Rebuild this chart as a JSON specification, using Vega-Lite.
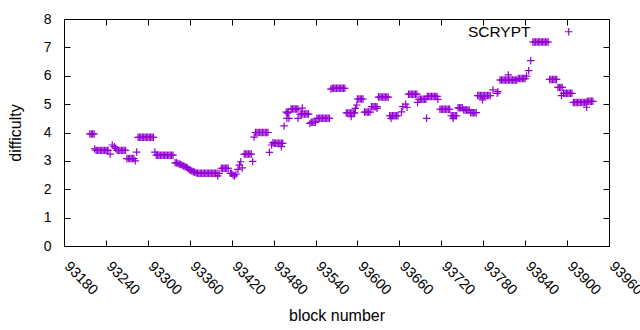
{
 "$schema": "https://vega.github.io/schema/vega-lite/v6.json",
 "width": 545,
 "height": 227,
 "autosize": "none",
 "padding": {"left": 64, "top": 19, "right": 31, "bottom": 84},
 "background": "white",
 "config": {
  "view": {"stroke": "black", "strokeWidth": 1},
  "font": "Liberation Sans",
  "axis": {"domain": false, "grid": false, "tickColor": "black", "tickSize": -6, "tickWidth": 1, "labelColor": "black", "titleColor": "black", "labelFontSize": 14, "titleFontSize": 16, "titleFontWeight": "normal", "labelFont": "Liberation Sans", "titleFont": "Liberation Sans"}
 },
 "data": {"values": [
  {"block":93217,"diff":3.95},{"block":93219,"diff":3.95},{"block":93221,"diff":3.95},{"block":93223,"diff":3.95},
  {"block":93224,"diff":3.42},
  {"block":93226,"diff":3.37},{"block":93228,"diff":3.37},{"block":93230,"diff":3.37},{"block":93232,"diff":3.37},{"block":93234,"diff":3.37},{"block":93236,"diff":3.37},{"block":93238,"diff":3.37},{"block":93240,"diff":3.37},{"block":93242,"diff":3.37},{"block":93243,"diff":3.37},
  {"block":93246,"diff":3.24},{"block":93249,"diff":3.56},{"block":93252,"diff":3.5},{"block":93254,"diff":3.44},
  {"block":93256,"diff":3.37},{"block":93258,"diff":3.37},{"block":93260,"diff":3.37},{"block":93262,"diff":3.37},{"block":93264,"diff":3.37},{"block":93266,"diff":3.37},{"block":93268,"diff":3.37},
  {"block":93270,"diff":3.08},{"block":93272,"diff":3.08},{"block":93274,"diff":3.08},{"block":93276,"diff":3.08},{"block":93278,"diff":3.08},{"block":93280,"diff":3.08},
  {"block":93282,"diff":3.0},{"block":93284,"diff":3.31},
  {"block":93286,"diff":3.83},{"block":93288,"diff":3.83},{"block":93290,"diff":3.83},{"block":93292,"diff":3.83},{"block":93294,"diff":3.83},{"block":93296,"diff":3.83},{"block":93298,"diff":3.83},{"block":93300,"diff":3.83},{"block":93302,"diff":3.83},{"block":93304,"diff":3.83},{"block":93306,"diff":3.83},{"block":93308,"diff":3.83},
  {"block":93310,"diff":3.31},
  {"block":93312,"diff":3.2},{"block":93314,"diff":3.2},{"block":93316,"diff":3.2},{"block":93318,"diff":3.2},{"block":93320,"diff":3.2},{"block":93322,"diff":3.2},{"block":93324,"diff":3.2},{"block":93326,"diff":3.2},{"block":93328,"diff":3.2},{"block":93330,"diff":3.2},{"block":93332,"diff":3.2},{"block":93334,"diff":3.2},{"block":93336,"diff":3.2},
  {"block":93339,"diff":2.93},{"block":93341,"diff":2.93},{"block":93343,"diff":2.91},{"block":93345,"diff":2.89},{"block":93347,"diff":2.87},{"block":93349,"diff":2.85},{"block":93351,"diff":2.82},{"block":93353,"diff":2.8},{"block":93355,"diff":2.78},{"block":93357,"diff":2.75},{"block":93359,"diff":2.7},{"block":93361,"diff":2.67},{"block":93363,"diff":2.64},{"block":93365,"diff":2.62},{"block":93367,"diff":2.6},{"block":93369,"diff":2.58},
  {"block":93371,"diff":2.56},{"block":93373,"diff":2.56},{"block":93375,"diff":2.56},{"block":93377,"diff":2.56},{"block":93379,"diff":2.56},{"block":93381,"diff":2.56},{"block":93383,"diff":2.56},{"block":93385,"diff":2.56},{"block":93387,"diff":2.56},{"block":93389,"diff":2.56},{"block":93391,"diff":2.56},{"block":93393,"diff":2.56},{"block":93395,"diff":2.56},{"block":93397,"diff":2.56},{"block":93399,"diff":2.56},
  {"block":93400,"diff":2.47},{"block":93402,"diff":2.56},
  {"block":93405,"diff":2.74},{"block":93407,"diff":2.74},{"block":93409,"diff":2.74},{"block":93411,"diff":2.74},{"block":93413,"diff":2.74},{"block":93415,"diff":2.74},
  {"block":93418,"diff":2.56},{"block":93420,"diff":2.56},{"block":93422,"diff":2.5},{"block":93424,"diff":2.47},{"block":93426,"diff":2.53},
  {"block":93429,"diff":2.7},{"block":93431,"diff":2.85},{"block":93433,"diff":2.97},{"block":93435,"diff":2.75},
  {"block":93438,"diff":3.24},{"block":93440,"diff":3.24},{"block":93442,"diff":3.24},{"block":93444,"diff":3.24},{"block":93446,"diff":3.24},{"block":93448,"diff":3.24},
  {"block":93450,"diff":2.98},{"block":93452,"diff":3.84},
  {"block":93454,"diff":4.0},{"block":93456,"diff":4.0},{"block":93458,"diff":4.0},{"block":93460,"diff":4.0},{"block":93462,"diff":4.0},{"block":93464,"diff":4.0},{"block":93466,"diff":4.0},{"block":93468,"diff":4.0},{"block":93470,"diff":4.0},{"block":93472,"diff":4.0},
  {"block":93474,"diff":3.3},{"block":93477,"diff":3.56},{"block":93479,"diff":3.64},
  {"block":93481,"diff":3.62},{"block":93483,"diff":3.62},{"block":93485,"diff":3.62},{"block":93487,"diff":3.62},{"block":93489,"diff":3.62},{"block":93491,"diff":3.62},{"block":93493,"diff":3.62},
  {"block":93491,"diff":3.5},{"block":93495,"diff":4.23},
  {"block":93498,"diff":4.72},{"block":93499,"diff":4.5},{"block":93500,"diff":4.68},{"block":93501,"diff":4.72},{"block":93502,"diff":4.5},
  {"block":93505,"diff":4.83},{"block":93507,"diff":4.83},{"block":93509,"diff":4.83},{"block":93511,"diff":4.83},{"block":93513,"diff":4.83},{"block":93515,"diff":4.83},
  {"block":93515,"diff":4.5},
  {"block":93518,"diff":4.65},{"block":93520,"diff":4.65},{"block":93522,"diff":4.65},{"block":93524,"diff":4.65},{"block":93526,"diff":4.65},{"block":93528,"diff":4.65},{"block":93530,"diff":4.65},
  {"block":93521,"diff":4.86},
  {"block":93532,"diff":4.32},{"block":93534,"diff":4.36},{"block":93536,"diff":4.36},{"block":93538,"diff":4.36},{"block":93540,"diff":4.36},
  {"block":93542,"diff":4.5},{"block":93544,"diff":4.5},{"block":93546,"diff":4.5},{"block":93548,"diff":4.5},{"block":93550,"diff":4.5},{"block":93552,"diff":4.5},{"block":93554,"diff":4.5},{"block":93556,"diff":4.5},{"block":93558,"diff":4.5},{"block":93560,"diff":4.5},
  {"block":93562,"diff":5.53},
  {"block":93564,"diff":5.56},{"block":93566,"diff":5.56},{"block":93568,"diff":5.56},{"block":93570,"diff":5.56},{"block":93572,"diff":5.56},{"block":93574,"diff":5.56},{"block":93576,"diff":5.56},{"block":93578,"diff":5.56},{"block":93580,"diff":5.56},{"block":93582,"diff":5.56},
  {"block":93584,"diff":4.69},{"block":93586,"diff":4.69},{"block":93588,"diff":4.69},{"block":93590,"diff":4.69},{"block":93592,"diff":4.69},{"block":93594,"diff":4.69},{"block":93596,"diff":4.69},
  {"block":93591,"diff":4.56},{"block":93597,"diff":4.85},{"block":93599,"diff":4.97},
  {"block":93600,"diff":5.18},{"block":93602,"diff":5.18},{"block":93604,"diff":5.18},{"block":93606,"diff":5.18},{"block":93608,"diff":5.18},
  {"block":93610,"diff":4.72},{"block":93612,"diff":4.72},{"block":93614,"diff":4.72},{"block":93616,"diff":4.72},{"block":93618,"diff":4.72},
  {"block":93620,"diff":4.91},{"block":93622,"diff":4.91},{"block":93624,"diff":4.91},{"block":93626,"diff":4.91},{"block":93628,"diff":4.91},{"block":93628,"diff":4.85},
  {"block":93630,"diff":5.25},{"block":93632,"diff":5.25},{"block":93634,"diff":5.25},{"block":93636,"diff":5.25},{"block":93638,"diff":5.25},{"block":93640,"diff":5.25},{"block":93642,"diff":5.25},{"block":93644,"diff":5.25},
  {"block":93646,"diff":4.59},{"block":93648,"diff":4.59},{"block":93650,"diff":4.59},{"block":93652,"diff":4.59},{"block":93654,"diff":4.59},{"block":93656,"diff":4.59},{"block":93658,"diff":4.59},
  {"block":93648,"diff":4.5},
  {"block":93663,"diff":4.73},{"block":93665,"diff":4.91},{"block":93669,"diff":5.0},{"block":93671,"diff":4.89},
  {"block":93673,"diff":5.35},{"block":93675,"diff":5.35},{"block":93677,"diff":5.35},{"block":93679,"diff":5.35},{"block":93681,"diff":5.35},{"block":93683,"diff":5.35},{"block":93685,"diff":5.35},
  {"block":93686,"diff":5.06},
  {"block":93688,"diff":5.17},{"block":93690,"diff":5.17},{"block":93692,"diff":5.17},{"block":93694,"diff":5.17},{"block":93696,"diff":5.17},{"block":93698,"diff":5.17},
  {"block":93699,"diff":4.5},
  {"block":93700,"diff":5.27},{"block":93702,"diff":5.27},{"block":93704,"diff":5.27},{"block":93706,"diff":5.27},{"block":93708,"diff":5.27},{"block":93710,"diff":5.27},{"block":93712,"diff":5.27},{"block":93714,"diff":5.27},
  {"block":93715,"diff":5.17},
  {"block":93718,"diff":4.82},{"block":93720,"diff":4.82},{"block":93722,"diff":4.82},{"block":93724,"diff":4.82},{"block":93726,"diff":4.82},{"block":93728,"diff":4.82},{"block":93730,"diff":4.82},{"block":93732,"diff":4.82},
  {"block":93734,"diff":4.59},{"block":93736,"diff":4.59},{"block":93738,"diff":4.59},{"block":93740,"diff":4.59},{"block":93742,"diff":4.59},{"block":93737,"diff":4.5},
  {"block":93744,"diff":4.87},{"block":93746,"diff":4.87},{"block":93748,"diff":4.87},{"block":93750,"diff":4.87},
  {"block":93752,"diff":4.79},{"block":93754,"diff":4.79},{"block":93756,"diff":4.79},{"block":93758,"diff":4.79},{"block":93760,"diff":4.79},
  {"block":93762,"diff":4.7},{"block":93764,"diff":4.7},{"block":93766,"diff":4.7},{"block":93768,"diff":4.7},{"block":93770,"diff":4.7},
  {"block":93772,"diff":5.3},{"block":93774,"diff":5.3},{"block":93776,"diff":5.3},{"block":93778,"diff":5.3},{"block":93780,"diff":5.3},{"block":93782,"diff":5.3},{"block":93784,"diff":5.3},{"block":93786,"diff":5.3},{"block":93788,"diff":5.3},{"block":93790,"diff":5.3},
  {"block":93779,"diff":5.15},
  {"block":93794,"diff":5.5},{"block":93800,"diff":5.38},{"block":93801,"diff":5.44},
  {"block":93804,"diff":5.85},{"block":93806,"diff":5.85},{"block":93808,"diff":5.85},{"block":93810,"diff":5.85},{"block":93812,"diff":5.85},{"block":93814,"diff":5.85},{"block":93816,"diff":5.85},{"block":93818,"diff":5.85},{"block":93820,"diff":5.85},{"block":93822,"diff":5.85},{"block":93824,"diff":5.85},{"block":93826,"diff":5.85},{"block":93828,"diff":5.85},
  {"block":93816,"diff":6.03},
  {"block":93830,"diff":5.9},{"block":93832,"diff":5.9},{"block":93834,"diff":5.9},{"block":93836,"diff":5.9},{"block":93838,"diff":5.9},{"block":93840,"diff":5.9},
  {"block":93842,"diff":5.99},{"block":93845,"diff":6.18},{"block":93848,"diff":6.53},
  {"block":93851,"diff":7.19},{"block":93853,"diff":7.19},{"block":93855,"diff":7.19},{"block":93857,"diff":7.19},{"block":93859,"diff":7.19},{"block":93861,"diff":7.19},{"block":93863,"diff":7.19},{"block":93865,"diff":7.19},{"block":93867,"diff":7.19},{"block":93869,"diff":7.19},{"block":93871,"diff":7.19},{"block":93873,"diff":7.19},
  {"block":93875,"diff":5.87},{"block":93877,"diff":5.87},{"block":93879,"diff":5.87},{"block":93881,"diff":5.87},{"block":93883,"diff":5.87},{"block":93885,"diff":5.87},
  {"block":93887,"diff":5.59},{"block":93889,"diff":5.59},{"block":93891,"diff":5.59},{"block":93893,"diff":5.59},
  {"block":93892,"diff":5.3},
  {"block":93895,"diff":5.38},{"block":93897,"diff":5.38},{"block":93899,"diff":5.38},{"block":93901,"diff":5.38},{"block":93903,"diff":5.38},{"block":93905,"diff":5.38},{"block":93907,"diff":5.38},
  {"block":93909,"diff":5.06},{"block":93911,"diff":5.06},{"block":93913,"diff":5.06},{"block":93915,"diff":5.06},{"block":93917,"diff":5.06},{"block":93919,"diff":5.06},{"block":93921,"diff":5.06},{"block":93923,"diff":5.06},{"block":93925,"diff":5.06},{"block":93927,"diff":5.06},
  {"block":93928,"diff":4.89},
  {"block":93929,"diff":5.1},{"block":93931,"diff":5.1},{"block":93933,"diff":5.1},{"block":93935,"diff":5.1},{"block":93937,"diff":5.1}
 ]},
 "layer": [
  {
   "mark": {"type": "point", "shape": "M-1,0L1,0M0,-1L0,1", "size": 56, "strokeWidth": 1.2, "opacity": 1, "filled": false},
   "encoding": {
    "x": {"field": "block", "type": "quantitative",
     "scale": {"domain": [93180, 93960], "nice": false, "zero": false},
     "axis": {"orient": "bottom", "values": [93180,93240,93300,93360,93420,93480,93540,93600,93660,93720,93780,93840,93900,93960], "format": "d", "title": "block number", "labelAngle": 45, "labelAlign": "left", "labelBaseline": "top", "labelPadding": 19, "labelOffset": 7, "labelFontSize": 14.5, "titlePadding": 10, "labelFlush": false, "labelOverlap": false}},
    "y": {"field": "diff", "type": "quantitative",
     "scale": {"domain": [0, 8], "nice": false},
     "axis": {"orient": "left", "values": [0,1,2,3,4,5,6,7,8], "title": "difficulty", "labelPadding": 19, "titlePadding": 20, "labelFlush": false}},
    "color": {"datum": "SCRYPT", "scale": {"range": ["#9400d3"]},
     "legend": {"title": null, "orient": "none", "legendX": 497, "legendY": 5, "padding": 0, "symbolType": "M-1,0L1,0M0,-1L0,1", "symbolSize": 56, "symbolStrokeWidth": 1.2, "labelAlign": "right", "labelOffset": -46, "labelFontSize": 15.5, "labelColor": "black", "labelFont": "Liberation Sans"}}
   }
  },
  {
   "mark": {"type": "point", "opacity": 0},
   "encoding": {
    "x": {"field": "block", "type": "quantitative", "axis": {"orient": "top", "values": [93180,93240,93300,93360,93420,93480,93540,93600,93660,93720,93780,93840,93900,93960], "labels": false, "title": null}},
    "y": {"field": "diff", "type": "quantitative", "axis": {"orient": "right", "values": [0,1,2,3,4,5,6,7,8], "labels": false, "title": null}}
   }
  }
 ],
 "resolve": {"axis": {"x": "independent", "y": "independent"}}
}
